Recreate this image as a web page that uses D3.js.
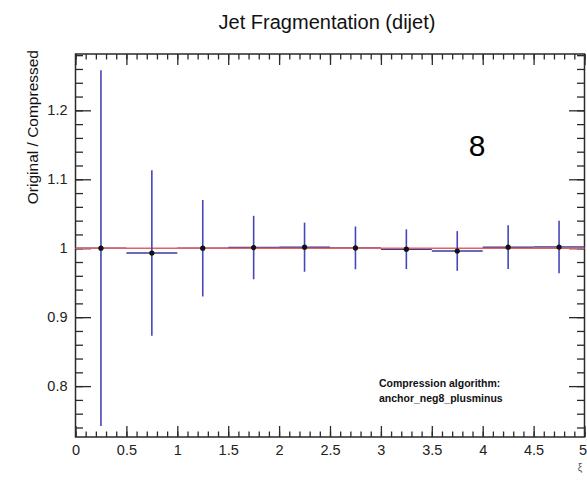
<!DOCTYPE html>
<html>
<head>
<meta charset="utf-8">
<script src="https://cdn.jsdelivr.net/npm/d3@7"></script>
<style>
  html, body { margin: 0; padding: 0; background: #fff; }
  svg { display: block; font-family: "Liberation Sans", Arial, Helvetica, sans-serif; }
</style>
</head>
<body>
<svg id="chart" width="587" height="481"></svg>
<script>
// ---- data ----
const binCenters = [0.25, 0.75, 1.25, 1.75, 2.25, 2.75, 3.25, 3.75, 4.25, 4.75];
const binHalfWidth = 0.25;
const ratioValues = [1.000, 0.993, 1.000, 1.001, 1.0015, 1.0005, 0.9986, 0.996, 1.0015, 1.0017];
const ratioErrors = [0.258, 0.120, 0.070, 0.046, 0.0356, 0.031, 0.0288, 0.0288, 0.0317, 0.038];
const xMajorTicks = [0, 0.5, 1, 1.5, 2, 2.5, 3, 3.5, 4, 4.5, 5];
const xTickLabels = ["0", "0.5", "1", "1.5", "2", "2.5", "3", "3.5", "4", "4.5", "5"];
const yMajorTicks = [0.8, 0.9, 1.0, 1.1, 1.2];
const yTickLabels = ["0.8", "0.9", "1", "1.1", "1.2"];
const xDomain = [0, 5];
const yDomain = [0.7262, 1.2817];
const referenceValue = 1.0;
const titleText = "Jet Fragmentation (dijet)";
const yTitleText = "Original / Compressed";
const xTitleText = "ξ";
const bigLabel = "8";
const legendLines = ["Compression algorithm:", "anchor_neg8_plusminus"];

// ---- layout ----
const svg = d3.select("#chart");
const L = 75.5, R = 584.5, T = 54, B = 437;
const x = d3.scaleLinear().domain(xDomain).range([L, R]);
const y = d3.scaleLinear().domain(yDomain).range([B, T]);

const xMinor = d3.range(0, 5.0001, 0.1).map(v => +v.toFixed(2));
const yMinor = d3.range(0.74, 1.281, 0.02).map(v => +v.toFixed(2));

const frameColor = "#2a2a2a";
const labelColor = "#222";

function styleAxis(g) {
  g.select(".domain").remove();
  g.selectAll(".tick line").attr("stroke", frameColor).attr("stroke-width", 1.3);
  g.selectAll(".tick text").attr("fill", labelColor).attr("font-family", "'Liberation Sans', Arial, sans-serif");
}

// Bottom axis
svg.append("g").attr("transform", `translate(0,${B})`)
  .call(d3.axisBottom(x).tickValues(xMinor).tickSize(-5.5).tickFormat(""))
  .call(styleAxis);
svg.append("g").attr("transform", `translate(0,${B})`)
  .call(d3.axisBottom(x).tickValues(xMajorTicks).tickSize(-11).tickPadding(8)
    .tickFormat((d, i) => xTickLabels[i]))
  .call(styleAxis)
  .call(g => g.selectAll(".tick text").attr("font-size", 14.5))
  .call(g => g.selectAll(".tick text").filter(d => d === xDomain[1])
    .attr("text-anchor", "end").attr("x", 2));

// Top axis
svg.append("g").attr("transform", `translate(0,${T})`)
  .call(d3.axisTop(x).tickValues(xMinor).tickSize(-5.5).tickFormat(""))
  .call(styleAxis);
svg.append("g").attr("transform", `translate(0,${T})`)
  .call(d3.axisTop(x).tickValues(xMajorTicks).tickSize(-11).tickFormat(""))
  .call(styleAxis);

// Left axis
svg.append("g").attr("transform", `translate(${L},0)`)
  .call(d3.axisLeft(y).tickValues(yMinor).tickSize(-7.5).tickFormat(""))
  .call(styleAxis);
svg.append("g").attr("transform", `translate(${L},0)`)
  .call(d3.axisLeft(y).tickValues(yMajorTicks).tickSize(-15.5).tickPadding(8)
    .tickFormat((d, i) => yTickLabels[i]))
  .call(styleAxis)
  .call(g => g.selectAll(".tick text").attr("font-size", 14.5));

// Right axis
svg.append("g").attr("transform", `translate(${R},0)`)
  .call(d3.axisRight(y).tickValues(yMinor).tickSize(-7.5).tickFormat(""))
  .call(styleAxis);
svg.append("g").attr("transform", `translate(${R},0)`)
  .call(d3.axisRight(y).tickValues(yMajorTicks).tickSize(-15.5).tickFormat(""))
  .call(styleAxis);

// Frame
svg.append("rect")
  .attr("x", L).attr("y", T).attr("width", R - L).attr("height", B - T)
  .attr("fill", "none").attr("stroke", frameColor).attr("stroke-width", 1.5);

const points = binCenters.map((c, i) => ({ c, v: ratioValues[i], e: ratioErrors[i] }));
const errColor = "#4646b8";

// Horizontal (bin-width) error bars
svg.append("g").selectAll("line").data(points).join("line")
  .attr("x1", d => x(d.c - binHalfWidth)).attr("x2", d => x(d.c + binHalfWidth))
  .attr("y1", d => y(d.v)).attr("y2", d => y(d.v))
  .attr("stroke", "#3a3a9a").attr("stroke-width", 1.4);

// Reference line at 1
svg.append("line")
  .attr("x1", x(xDomain[0])).attr("x2", x(xDomain[1]))
  .attr("y1", y(referenceValue)).attr("y2", y(referenceValue))
  .attr("stroke", "#e06262").attr("stroke-width", 1.4);

// Vertical error bars
svg.append("g").selectAll("line").data(points).join("line")
  .attr("x1", d => x(d.c)).attr("x2", d => x(d.c))
  .attr("y1", d => y(d.v - d.e)).attr("y2", d => y(d.v + d.e))
  .attr("stroke", errColor).attr("stroke-width", 1.6);

// Markers
svg.append("g").selectAll("circle").data(points).join("circle")
  .attr("cx", d => x(d.c)).attr("cy", d => y(d.v)).attr("r", 2.6)
  .attr("fill", "#111");

// Title
svg.append("text").attr("x", 327).attr("y", 29)
  .attr("text-anchor", "middle").attr("font-size", 20).attr("fill", "#111")
  .text(titleText);

// Y title
svg.append("text")
  .attr("transform", `translate(37.5,50) rotate(-90)`)
  .attr("text-anchor", "end").attr("font-size", 15.5).attr("fill", "#111")
  .text(yTitleText);

// X title (tiny)
svg.append("text").attr("x", 580).attr("y", 471)
  .attr("text-anchor", "middle").attr("font-size", 10).attr("fill", "#555")
  .text(xTitleText);

// Big label
svg.append("text").attr("x", 477).attr("y", 156)
  .attr("text-anchor", "middle").attr("font-size", 30).attr("fill", "#000")
  .text(bigLabel);

// Legend text
svg.append("g").selectAll("text").data(legendLines).join("text")
  .attr("x", 379).attr("y", (d, i) => 387 + i * 15)
  .attr("font-size", 10.5).attr("font-weight", "bold").attr("fill", "#111")
  .text(d => d);
</script>
</body>
</html>
